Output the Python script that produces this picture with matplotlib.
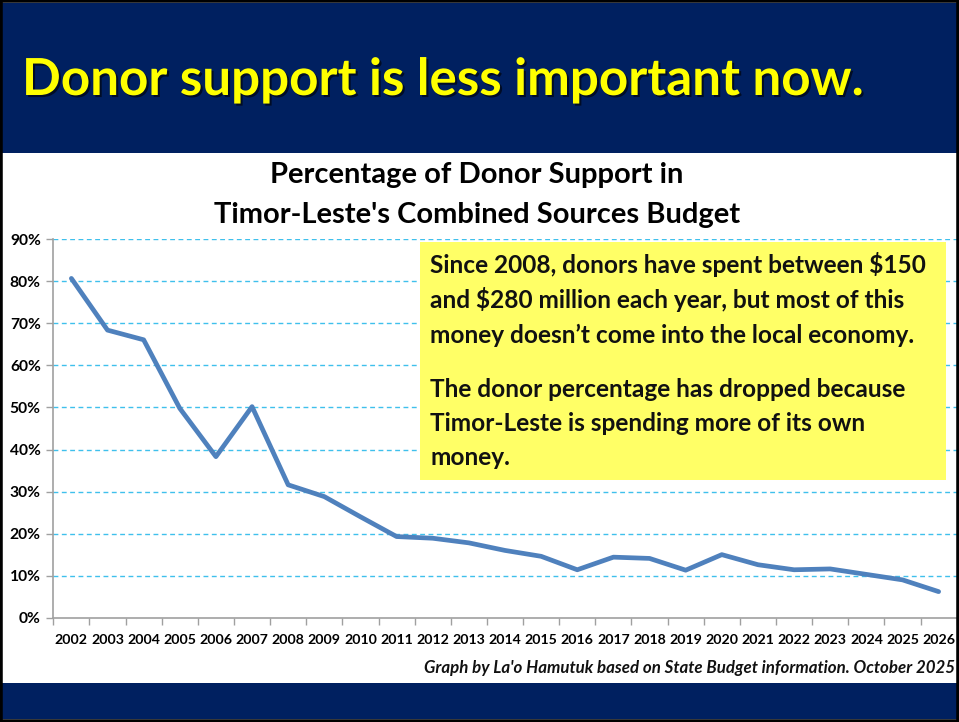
import matplotlib
matplotlib.use("Agg")
import matplotlib.pyplot as plt
import matplotlib.patches as mpatches
import matplotlib.patheffects as pe
from matplotlib.ticker import FuncFormatter, FixedLocator

# ---- data ----
years = ["2002", "2003", "2004", "2005", "2006", "2007", "2008", "2009", "2010",
         "2011", "2012", "2013", "2014", "2015", "2016", "2017", "2018", "2019",
         "2020", "2021", "2022", "2023", "2024", "2025", "2026"]
donor_pct = [80.7, 68.4, 66.1, 49.8, 38.3, 50.2, 31.6, 28.8, 24.0,
             19.3, 18.9, 17.8, 16.0, 14.6, 11.4, 14.4, 14.1, 11.3,
             15.0, 12.6, 11.4, 11.6, 10.3, 9.0, 6.2]
y_ticks = [0, 10, 20, 30, 40, 50, 60, 70, 80, 90]

header_title = "Donor support is less important now."
chart_title_1 = "Percentage of Donor Support in"
chart_title_2 = "Timor-Leste's Combined Sources Budget"
box_para_1 = ["Since 2008, donors have spent between $150",
              "and $280 million each year, but most of this",
              "money doesn\u2019t come into the local economy."]
box_para_2 = ["The donor percentage has dropped because",
              "Timor-Leste is spending more of its own",
              "money."]
footnote = "Graph by La'o Hamutuk based on State Budget information. October 2025"

W, H = 959, 722
FONT = "Lato"
NAVY = "#002060"

fig = plt.figure(figsize=(W / 100, H / 100), dpi=100)
fig.patch.set_facecolor("white")


def fx(x):
    return x / W


def fy(y):
    return 1 - y / H


renderer = fig.canvas.get_renderer()


def fit(t, target_w):
    w = t.get_window_extent(renderer=renderer).width
    t.set_fontsize(t.get_fontsize() * target_w / w)
    return t.get_fontsize()


def fit_size(text, target_w, weight="bold"):
    tmp = fig.text(0, 0, text, fontfamily=FONT, fontweight=weight, fontsize=10)
    w = tmp.get_window_extent(renderer=renderer).width
    tmp.remove()
    return 10 * target_w / w


# ---- background bands and border ----
fig.add_artist(mpatches.Rectangle((0, fy(153)), 1, (153 - 3) / H, transform=fig.transFigure,
                                  facecolor=NAVY, edgecolor="none", zorder=0))
fig.add_artist(mpatches.Rectangle((0, fy(719)), 1, (719 - 683) / H, transform=fig.transFigure,
                                  facecolor=NAVY, edgecolor="none", zorder=0))
fig.add_artist(mpatches.Rectangle((0, 0), 1, 1, transform=fig.transFigure,
                                  facecolor="none", edgecolor="black", linewidth=4, zorder=5))

# ---- header title ----
t = fig.text(fx(22), fy(95), header_title, color="#FFFF00", fontfamily=FONT,
             fontweight="bold", fontsize=36, ha="left", va="baseline",
             path_effects=[pe.withSimplePatchShadow(offset=(1.5, -1.5), shadow_rgbFace="black", alpha=0.6)])
fit(t, 840)

# ---- chart titles ----
t2 = fig.text(fx(477), fy(223), chart_title_2, color="black", fontfamily=FONT,
              fontweight="bold", fontsize=18, ha="center", va="baseline")
s = fit(t2, 527)
fig.text(fx(477), fy(183), chart_title_1, color="black", fontfamily=FONT,
         fontweight="bold", fontsize=s, ha="center", va="baseline")

# ---- axes ----
ax = fig.add_axes([fx(53.3), fy(617.7), (956.7 - 53.3) / W, (617.7 - 239.3) / H])
ax.set_facecolor("none")
x = list(range(len(years)))
ax.plot(x, donor_pct, color="#4F81BD", linewidth=3.4, solid_joinstyle="round",
        solid_capstyle="round", zorder=3)
ax.set_xlim(-0.5, len(years) - 0.5)
ax.set_ylim(0, 90)
ax.set_yticks(y_ticks)
ax.yaxis.set_major_formatter(FuncFormatter(lambda v, p: f"{int(v)}%"))
ax.set_xticks(x)
ax.set_xticklabels(years)
ax.xaxis.set_minor_locator(FixedLocator([i - 0.5 for i in range(len(years) + 1)]))
xs = fit_size("2002", 33)
ys = fit_size("90%", 31)
ax.tick_params(axis="x", which="major", length=0, pad=12, labelsize=xs)
ax.tick_params(axis="x", which="minor", length=5, color="#A0A0A0", width=1, direction="out")
ax.tick_params(axis="y", which="major", length=5, color="#A0A0A0", width=1, direction="out",
               labelsize=ys, pad=4)
for lab in ax.get_xticklabels() + ax.get_yticklabels():
    lab.set_fontfamily(FONT)
    lab.set_fontweight("bold")
    lab.set_color("black")
for sp in ["top", "right"]:
    ax.spines[sp].set_visible(False)
for sp in ["left", "bottom"]:
    ax.spines[sp].set_color("#A0A0A0")
    ax.spines[sp].set_linewidth(1.2)
for v in y_ticks[1:]:
    ax.axhline(v, color="#3FC0EC", linewidth=1, linestyle=(0, (3.5, 2.5)), zorder=1)

# ---- yellow text box ----
fig.add_artist(mpatches.Rectangle((fx(420), fy(480)), (946 - 420) / W, (480 - 242) / H,
                                  transform=fig.transFigure, facecolor="#FFFF66",
                                  edgecolor="none", zorder=4))
t3 = fig.text(fx(430), fy(273), box_para_1[0], color="#111111", fontfamily=FONT,
              fontweight="bold", fontsize=15, ha="left", va="baseline", zorder=6)
bs = fit(t3, 498)
baselines = [273, 308, 343, 397, 431, 465]
lines = box_para_1 + box_para_2
for i in range(1, len(lines)):
    fig.text(fx(430), fy(baselines[i]), lines[i], color="#111111", fontfamily=FONT,
             fontweight="bold", fontsize=bs, ha="left", va="baseline", zorder=6)

# ---- footnote ----
t4 = fig.text(fx(955), fy(673), footnote, color="#111111", fontfamily=FONT,
              fontweight="bold", fontstyle="italic", fontsize=11, ha="right", va="baseline")
fit(t4, 530)

fig.savefig("out.png", dpi=100)
